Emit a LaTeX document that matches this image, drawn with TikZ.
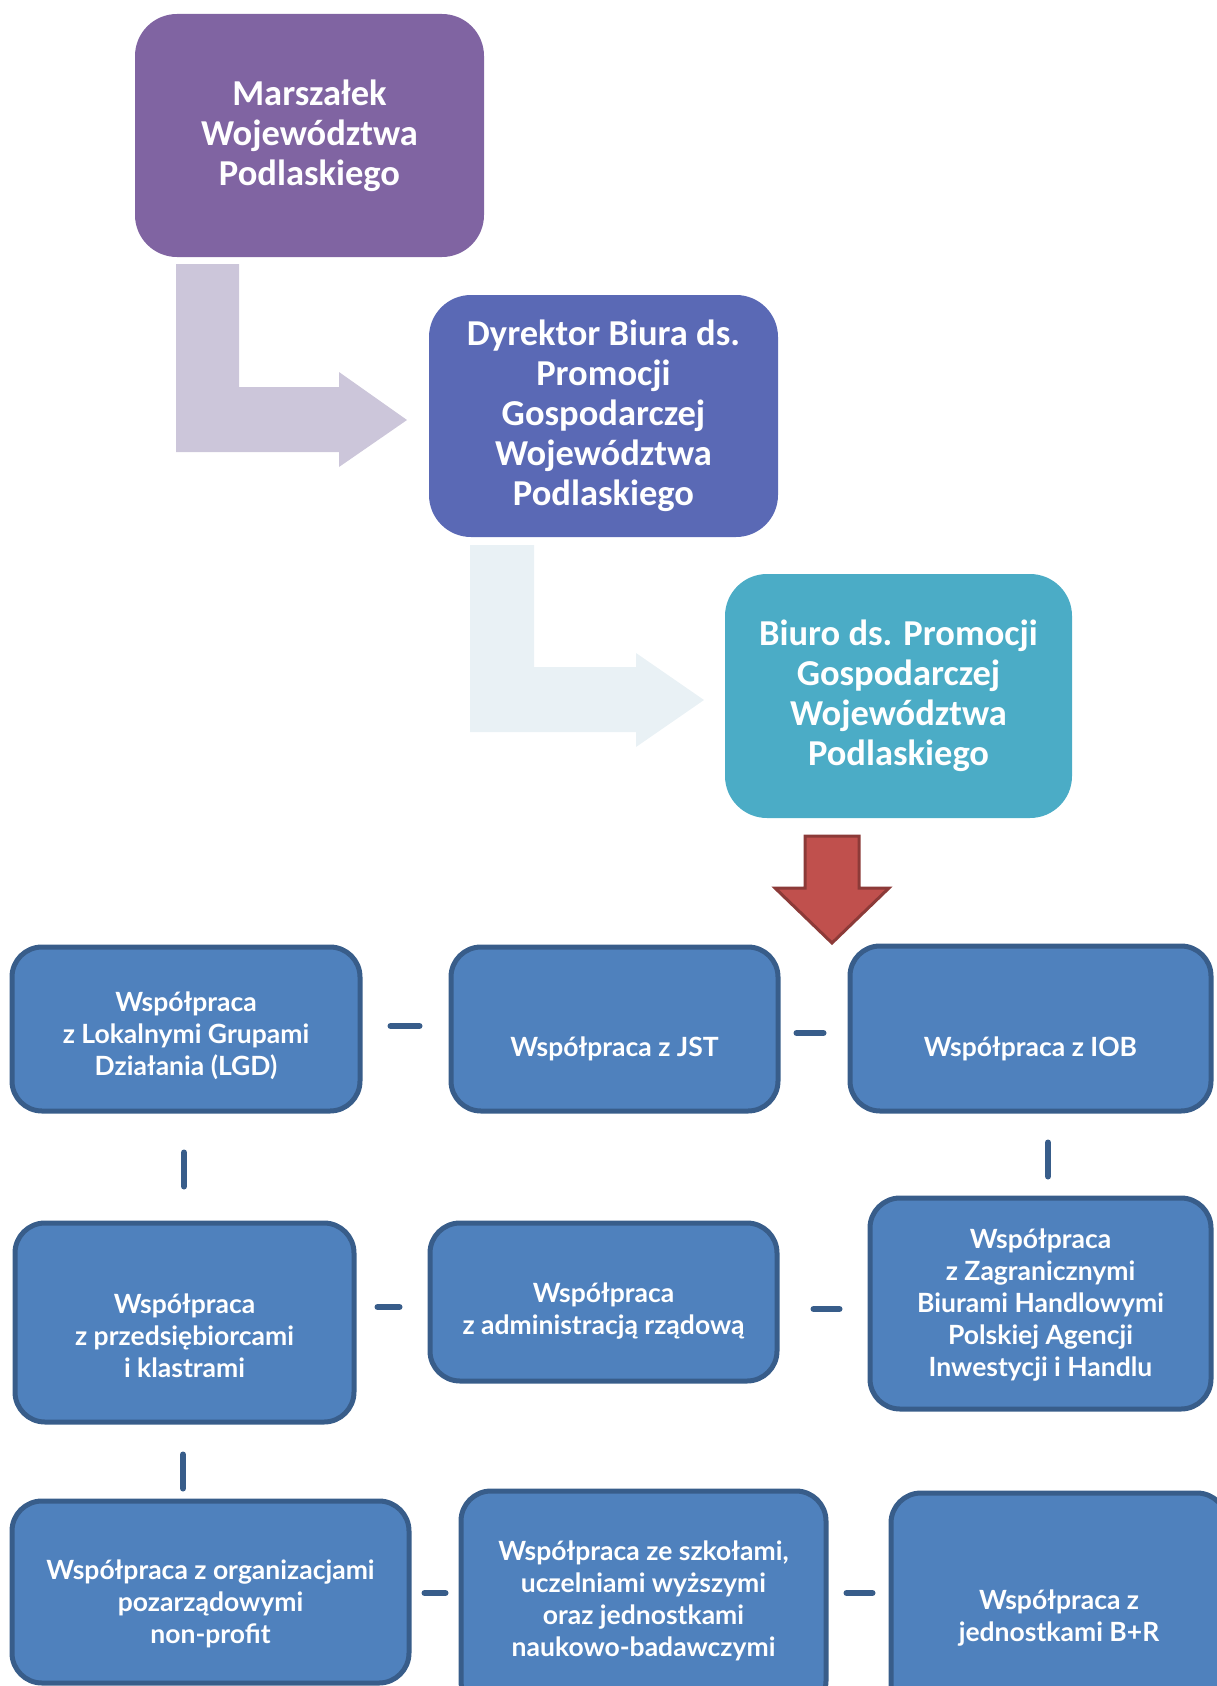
\documentclass[tikz,border=0pt]{standalone}
\usepackage{fontspec}
\setmainfont{Lato}
\newfontfamily\carlito{Carlito}
\usepackage{tikz}
\usetikzlibrary{positioning}
\definecolor{marszviolet}{HTML}{8064A2}
\definecolor{dyrindigo}{HTML}{5A69B5}
\definecolor{biuroteal}{HTML}{4BACC6}
\definecolor{lilac}{HTML}{CCC6DA}
\definecolor{paleblue}{HTML}{E9F1F5}
\definecolor{redarrow}{HTML}{C0504D}
\definecolor{redarrowedge}{HTML}{8C3A38}
\definecolor{boxblue}{HTML}{4F81BD}
\definecolor{boxedge}{HTML}{385D8A}

\begin{document}
\begin{tikzpicture}[x=1pt, y=-1pt,
    topbox/.style={rounded corners=42, inner sep=0, text=white, align=center,
        font=\carlito\bfseries\fontsize{36.5}{40}\selectfont},
    bluebox/.style={draw=boxedge, fill=boxblue, line width=5, rounded corners=30, inner sep=0},
    boxtxt/.style={text=white, align=center, font=\bfseries\fontsize{26.5}{32}\selectfont},
    link/.style={draw=boxedge, line width=6, line cap=round}]
    \useasboundingbox (0,0) rectangle (1216,1686);

    % strzalki schodkowe
    \fill[lilac] (176,264) -- (239,264) -- (239,387) -- (339,387) -- (339,372) -- (407,420)
        -- (339,467) -- (339,452) -- (176,452) -- cycle;
    \fill[paleblue] (470,545) -- (534,545) -- (534,667) -- (636,667) -- (636,653) -- (704,700)
        -- (636,747) -- (636,732) -- (470,732) -- cycle;

    % kierownictwo
    \node[topbox, fill=marszviolet, minimum width=349, minimum height=243] (marsz) at (309.5,135.5)
        {Marszałek\\Województwa\\Podlaskiego};
    \node[topbox, fill=dyrindigo, minimum width=349, minimum height=242] (dyr) at (603.5,416)
        {Dyrektor Biura ds.\\Promocji\\Gospodarczej\\Województwa\\Podlaskiego};
    \node[topbox, fill=biuroteal, minimum width=347, minimum height=244] (biuro) at (898.5,696)
        {Biuro ds. Promocji\\Gospodarczej\\Województwa\\Podlaskiego};

    % strzalka w dol
    \draw[draw=redarrowedge, fill=redarrow, line width=3] (805,836) -- (859,836) -- (859,888)
        -- (889,888) -- (832,943) -- (775,888) -- (805,888) -- cycle;

    % obszary wspolpracy
    \node[bluebox, minimum width=348, minimum height=164,
        label={[boxtxt, yshift=-7]center:{Współpraca\\z Lokalnymi Grupami\\Działania (LGD)}}] (lgd) at (186,1029) {};
    \node[bluebox, minimum width=327, minimum height=164,
        label={[boxtxt, yshift=-20]center:{Współpraca z JST}}] (jst) at (614.5,1029) {};
    \node[bluebox, minimum width=361, minimum height=165,
        label={[boxtxt, yshift=-20]center:{Współpraca z IOB}}] (iob) at (1030.5,1028.5) {};
    \node[bluebox, minimum width=339, minimum height=199,
        label={[boxtxt, yshift=-13]center:{Współpraca\\z przedsiębiorcami\\i klastrami}}] (przed) at (184.5,1322.5) {};
    \node[bluebox, minimum width=347, minimum height=158,
        label={[boxtxt, yshift=-9]center:{Współpraca\\z administracją rządową}}] (admin) at (603.5,1302) {};
    \node[bluebox, minimum width=341, minimum height=211,
        label={[boxtxt, yshift=-2]center:{Współpraca\\z Zagranicznymi\\Biurami Handlowymi\\Polskiej Agencji\\Inwestycji i Handlu}}] (zagr) at (1040.5,1303.5) {};
    \node[bluebox, minimum width=397, minimum height=182,
        label={[boxtxt, yshift=-12]center:{Współpraca z organizacjami\\pozarządowymi\\non-profit}}] (ngo) at (210.5,1592) {};
    \node[bluebox, minimum width=365, minimum height=220,
        label={[boxtxt]center:{Współpraca ze szkołami,\\uczelniami wyższymi\\oraz jednostkami\\naukowo-badawczymi}}] (szkoly) at (643.5,1601) {};
    \node[bluebox, minimum width=336, minimum height=250,
        label={[boxtxt]center:{Współpraca z\\jednostkami B+R}}] (bir) at (1059,1618) {};

    % lacznik
    \draw[link] ([xshift=28, yshift=3]lgd.east) -- ([xshift=-29, yshift=3]jst.west);
    \draw[link] ([xshift=16, yshift=-4]jst.east) -- ([xshift=-24, yshift=-4.5]iob.west);
    \draw[link] ([xshift=-2, yshift=-39]lgd.south) -- ([xshift=-0.5, yshift=34]przed.north);
    \draw[link] ([xshift=17.5, yshift=-29]iob.south) -- ([xshift=7.5, yshift=19]zagr.north);
    \draw[link] ([xshift=21, yshift=15.5]przed.east) -- ([xshift=-28, yshift=-5]admin.west);
    \draw[link] ([xshift=34, yshift=-7]admin.east) -- ([xshift=-28, yshift=-5.5]zagr.west);
    \draw[link] ([xshift=-1.5, yshift=-30]przed.south) -- ([xshift=-27.5, yshift=10]ngo.north);
    \draw[link] ([xshift=13, yshift=-1]ngo.east) -- ([xshift=-13, yshift=8]szkoly.west);
    \draw[link] ([xshift=18, yshift=8]szkoly.east) -- ([xshift=-16, yshift=25]bir.west);
\end{tikzpicture}
\end{document}
